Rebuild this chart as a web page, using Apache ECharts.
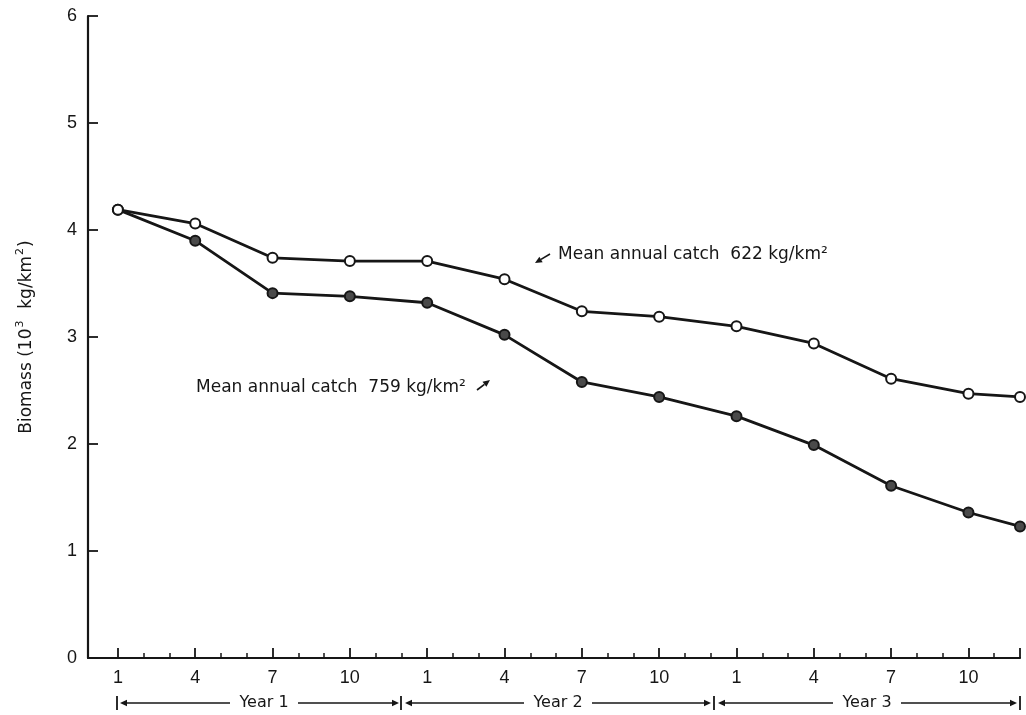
<!DOCTYPE html>
<html>
<head>
<meta charset="utf-8">
<script src="https://cdn.jsdelivr.net/npm/echarts@6/dist/echarts.min.js"></script>
<style>
html,body{margin:0;padding:0;background:#fff;}
#chart{width:1026px;height:715px;}
</style>
</head>
<body>
<div id="chart"></div>
<script>
// Months counted from month 1 of Year 1 (index 0)
var months = [0, 3, 6, 9, 12, 15, 18, 21, 24, 27, 30, 33, 35];
var catch622 = [4.19, 4.06, 3.74, 3.71, 3.71, 3.54, 3.24, 3.19, 3.10, 2.94, 2.61, 2.47, 2.44];
var catch759 = [4.19, 3.90, 3.41, 3.38, 3.32, 3.02, 2.58, 2.44, 2.26, 1.99, 1.61, 1.36, 1.23];
var majorTicks = [0, 3, 6, 9, 12, 15, 18, 21, 24, 27, 30, 33, 35];
var labelTicks = [0, 3, 6, 9, 12, 15, 18, 21, 24, 27, 30, 33];
var minorTicks = [1, 2, 4, 5, 7, 8, 10, 11, 13, 14, 16, 17, 19, 20, 22, 23, 25, 26, 28, 29, 31, 32, 34];
var yearLabels = ['Year 1', 'Year 2', 'Year 3'];
var noteHigh = 'Mean annual catch  622 kg/km\u00B2';
var noteLow = 'Mean annual catch  759 kg/km\u00B2';

function pairs(ys) { return months.map(function (m, i) { return [m, ys[i]]; }); }

var INK = '#161616';
var FONT = 'Liberation Sans';
var TFONT = 'DejaVu Sans';

function arrow(x1, y1, x2, y2, head) {
  var ang = Math.atan2(y2 - y1, x2 - x1);
  var h = head || 7, w = 3.2;
  var bx = x2 - h * Math.cos(ang), by = y2 - h * Math.sin(ang);
  var px = -Math.sin(ang) * w, py = Math.cos(ang) * w;
  return [
    { type: 'line', shape: { x1: x1, y1: y1, x2: bx, y2: by }, style: { stroke: INK, lineWidth: 1.6 }, silent: true },
    { type: 'polygon', shape: { points: [[x2, y2], [bx + px, by + py], [bx - px, by - py]] }, style: { fill: INK }, silent: true }
  ];
}
function bar(x, y) {
  return { type: 'line', shape: { x1: x, y1: y - 7, x2: x, y2: y + 7 }, style: { stroke: INK, lineWidth: 1.8 }, silent: true };
}
function text(str, x, y, size, align) {
  return { type: 'text', x: x, y: y, style: { text: str, fill: INK, font: size + 'px "' + TFONT + '"', textAlign: align || 'left', textVerticalAlign: 'middle' }, silent: true };
}

var yy = 703;
var graphics = [];
// Year 1
graphics.push(bar(117, yy));
graphics = graphics.concat(arrow(230, yy, 120, yy));
graphics.push(text(yearLabels[0], 264, yy, 16, 'center'));
graphics = graphics.concat(arrow(298, yy, 399, yy));
graphics.push(bar(401, yy));
// Year 2
graphics = graphics.concat(arrow(524, yy, 405, yy));
graphics.push(text(yearLabels[1], 558, yy, 16, 'center'));
graphics = graphics.concat(arrow(592, yy, 711, yy));
graphics.push(bar(714, yy));
// Year 3
graphics = graphics.concat(arrow(833, yy, 718, yy));
graphics.push(text(yearLabels[2], 867, yy, 16, 'center'));
graphics = graphics.concat(arrow(901, yy, 1017, yy));
graphics.push(bar(1020, yy));
// annotations
graphics = graphics.concat(arrow(550, 254, 535, 263, 7));
graphics.push(text(noteHigh, 558, 255, 17));
graphics.push(text(noteLow, 196, 388, 17));
graphics = graphics.concat(arrow(477, 390, 490, 380, 7));

var chart = echarts.init(document.getElementById('chart'), null, { renderer: 'canvas' });
chart.setOption({
  backgroundColor: '#ffffff',
  animation: false,
  grid: { left: 88, right: 6, top: 16, bottom: 57, containLabel: false, outerBoundsMode: 'none' },
  xAxis: [
    {
      type: 'value', min: -1.16, max: 35,
      axisLine: { show: true, onZero: false, lineStyle: { color: INK, width: 2.2 } },
      axisTick: { show: true, inside: true, length: 10, customValues: majorTicks, lineStyle: { color: INK, width: 1.8 } },
      axisLabel: { show: true, customValues: labelTicks, margin: 11, color: INK, fontSize: 18, fontFamily: FONT,
        formatter: function (v) { return String((Math.round(v) % 12) + 1); } },
      splitLine: { show: false }
    },
    {
      type: 'value', min: -1.16, max: 35, position: 'bottom',
      axisLine: { show: false },
      axisTick: { show: true, inside: true, length: 5, customValues: minorTicks, lineStyle: { color: INK, width: 1.5 } },
      axisLabel: { show: false },
      splitLine: { show: false }
    }
  ],
  yAxis: {
    type: 'value', min: 0, max: 6, interval: 1,
    name: '{t|Biomass (10}{s|3}{t|  kg/km}{s|2}{t|)}', nameLocation: 'middle', nameGap: 53, nameRotate: 90,
    nameTextStyle: {
      color: INK, fontFamily: TFONT, fontSize: 17,
      rich: {
        t: { fontSize: 17, fontFamily: TFONT, color: INK, verticalAlign: 'bottom', lineHeight: 20 },
        s: { fontSize: 11, fontFamily: TFONT, color: INK, verticalAlign: 'top', lineHeight: 20, padding: [0, 1, 8, 1] }
      }
    },
    axisLine: { show: true, onZero: false, lineStyle: { color: INK, width: 2.2 } },
    axisTick: { show: true, inside: true, length: 10, lineStyle: { color: INK, width: 1.8 } },
    axisLabel: { color: INK, fontSize: 18, fontFamily: FONT, margin: 11 },
    splitLine: { show: false }
  },
  series: [
    {
      name: noteHigh, type: 'line', data: pairs(catch622), xAxisIndex: 0,
      symbol: 'circle', symbolSize: 10, showAllSymbol: true,
      lineStyle: { color: INK, width: 2.8 },
      itemStyle: { color: '#ffffff', borderColor: INK, borderWidth: 2 },
      z: 3
    },
    {
      name: noteLow, type: 'line', data: pairs(catch759), xAxisIndex: 0,
      symbol: 'circle', symbolSize: 10, showAllSymbol: true,
      lineStyle: { color: INK, width: 2.8 },
      itemStyle: { color: '#4a4a4a', borderColor: INK, borderWidth: 2 },
      z: 2
    }
  ],
  graphic: graphics
});
</script>
</body>
</html>
